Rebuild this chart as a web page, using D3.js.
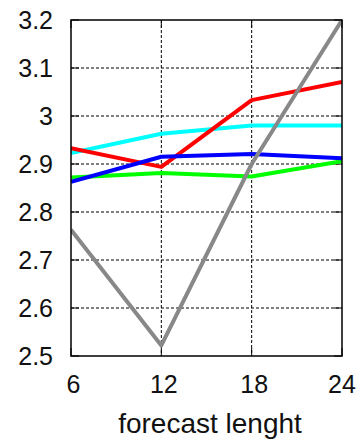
<!DOCTYPE html>
<html><head><meta charset="utf-8">
<script src="https://cdn.jsdelivr.net/npm/d3@7"></script>
<style>body{margin:0;background:#fff}svg{display:block}text{font-family:"Liberation Sans",Arial,sans-serif;fill:#111}</style>
</head><body>
<script>
const hours = [6, 12, 18, 24];
const yTicks = [2.5, 2.6, 2.7, 2.8, 2.9, 3.0, 3.1, 3.2];
const yTickLabels = ["2.5", "2.6", "2.7", "2.8", "2.9", "3", "3.1", "3.2"];
const redVals = [2.933, 2.894, 3.033, 3.071];
const cyanVals = [2.923, 2.963, 2.98, 2.98];
const blueVals = [2.863, 2.915, 2.921, 2.912];
const greenVals = [2.872, 2.881, 2.874, 2.906];
const grayVals = [2.763, 2.522, 2.9, 3.2];
const seriesColors = ["#00ffff", "#ff0000", "#00ff00", "#0000ff", "#888888"];
const seriesList = [cyanVals, redVals, greenVals, blueVals, grayVals];

const W = 361, H = 440;
const m = {l: 71, r: 19, t: 20, b: 84};
const svg = d3.select("body").append("svg").attr("width", W).attr("height", H);
const x = d3.scaleLinear().domain([6, 24]).range([m.l, W - m.r]);
const y = d3.scaleLinear().domain([2.5, 3.2]).range([H - m.b, m.t]);

// grid
const g = svg.append("g");
g.selectAll(".gy").data(yTicks.slice(1, -1)).enter().append("line")
  .attr("x1", m.l).attr("x2", W - m.r).attr("y1", d => y(d)).attr("y2", d => y(d))
  .attr("stroke", "#000").attr("stroke-width", 1).attr("stroke-dasharray", "3,2");
g.selectAll(".gx").data(hours.slice(1, -1)).enter().append("line")
  .attr("y1", m.t).attr("y2", H - m.b).attr("x1", d => x(d)).attr("x2", d => x(d))
  .attr("stroke", "#000").attr("stroke-width", 1).attr("stroke-dasharray", "3,2");

// inner ticks
const tl = 8;
yTicks.forEach(v => {
  svg.append("line").attr("x1", m.l).attr("x2", m.l + tl).attr("y1", y(v)).attr("y2", y(v)).attr("stroke", "#000");
  svg.append("line").attr("x1", W - m.r - tl).attr("x2", W - m.r).attr("y1", y(v)).attr("y2", y(v)).attr("stroke", "#000");
});
hours.forEach(v => {
  svg.append("line").attr("x1", x(v)).attr("x2", x(v)).attr("y1", H - m.b).attr("y2", H - m.b - tl).attr("stroke", "#000");
  svg.append("line").attr("x1", x(v)).attr("x2", x(v)).attr("y1", m.t).attr("y2", m.t + tl).attr("stroke", "#000");
});

// lines
const line = d3.line().x((d, i) => x(hours[i])).y(d => y(d));
svg.append("defs").append("clipPath").attr("id", "clip").append("rect")
  .attr("x", m.l).attr("y", m.t - 2).attr("width", W - m.l - m.r).attr("height", H - m.t - m.b + 2);
svg.append("g").attr("clip-path", "url(#clip)").selectAll("path").data(seriesList).enter().append("path")
  .attr("d", line).attr("fill", "none").attr("stroke", (d, i) => seriesColors[i])
  .attr("stroke-width", 4).attr("stroke-linejoin", "round");

// frame
svg.append("rect").attr("x", m.l).attr("y", m.t).attr("width", W - m.l - m.r).attr("height", H - m.t - m.b)
  .attr("fill", "none").attr("stroke", "#000").attr("stroke-width", 1.5);

// labels
svg.selectAll(".yl").data(yTicks).enter().append("text")
  .attr("x", 53).attr("y", d => y(d) + 9).attr("text-anchor", "end")
  .attr("font-size", 25).text((d, i) => yTickLabels[i]);
svg.selectAll(".xl").data(hours).enter().append("text")
  .attr("x", d => x(d) + (d === 24 ? 0 : 2.5)).attr("y", 393).attr("text-anchor", "middle")
  .attr("font-size", 25).text(d => d);
svg.append("text").attr("x", 210).attr("y", 433)
  .attr("text-anchor", "middle").attr("font-size", 28).text("forecast lenght");
</script>
</body></html>
